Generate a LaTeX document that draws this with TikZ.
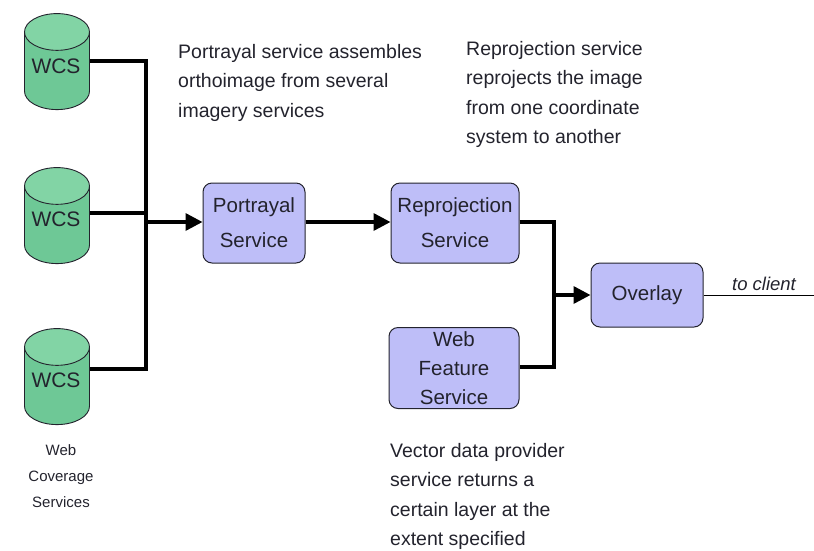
\documentclass[tikz,border=0pt]{standalone}
\usepackage{fontspec}
\setmainfont{Liberation Sans}
\usetikzlibrary{shapes.geometric,arrows.meta}
\definecolor{cylgreen}{RGB}{110,200,150}
\definecolor{cyltop}{RGB}{130,212,165}
\definecolor{boxblue}{RGB}{190,190,248}
\definecolor{ink}{RGB}{35,35,45}
\tikzset{
  x=1pt,y=-1pt,
  db/.style={cylinder,shape border rotate=90,aspect=0.75,draw=ink,line width=0.9pt,
    cylinder uses custom fill,cylinder body fill=cylgreen,cylinder end fill=cyltop,
    minimum width=65pt,minimum height=96pt,inner sep=0pt,anchor=center,
    font=\fontsize{21}{24}\selectfont,text=ink},
  wcslabel/.style={inner sep=0pt,font=\fontsize{21}{24}\selectfont,text=ink},
  svc/.style={draw=ink,fill=boxblue,line width=1pt,rounded corners=9pt,align=center,inner sep=0pt,
    font=\fontsize{20.5}{30}\selectfont,text=ink},
  wire/.style={line width=3.4pt,draw=black},
  feed/.style={line width=3.4pt,draw=black,-{Triangle[length=17pt,width=17pt]}},
  thin wire/.style={line width=1pt,draw=black},
  note/.style={align=left,anchor=north west,inner sep=0pt,font=\fontsize{19.5}{29.5}\selectfont,text=ink},
}
\begin{document}
\begin{tikzpicture}
\useasboundingbox (0,0) rectangle (814,550);
\node[db] (w1) at (57,71) {\phantom{WCS}};
\node[db] (w2) at (57,225) {\phantom{WCS}};
\node[db] (w3) at (57,386) {\phantom{WCS}};
\node[wcslabel] (w1t) at (56,66) {WCS};
\node[wcslabel] (w2t) at (56,219) {WCS};
\node[wcslabel] (w3t) at (56,380) {WCS};
\node[svc,minimum width=102pt,minimum height=80pt] (por) at (254,223) {Portrayal\\[5pt]Service};
\node[svc,minimum width=128pt,minimum height=80pt] (rep) at (455,223) {Reprojection\\[5pt]Service};
\node[svc,minimum width=130pt,minimum height=81pt] (wfs) at (454,368) {Web\\[-1pt]Feature\\[-1pt]Service};
\node[svc,minimum width=112pt,minimum height=64pt] (ovl) at (647,295) {Overlay};
\coordinate (busa) at (146,61);
\coordinate (busb) at (146,369);
\coordinate (busm) at (146,222);
\coordinate (busc) at (146,213);
\coordinate (r1) at (554,222);
\coordinate (r2) at (554,367);
\coordinate (rm) at (554,295);
\coordinate (out) at (814,295);
\draw[wire] (w1.east |- busa) -- (busa) -- (busb) -- (w3.east |- busb);
\draw[wire] (w2.east |- busc) -- (busc);
\draw[feed] (busm) -- (por.west |- busm);
\draw[feed] (por.east |- busm) -- (rep.west |- busm);
\draw[wire] (rep.east |- r1) -- (r1) -- (r2) -- (wfs.east |- r2);
\draw[feed] (rm) -- (ovl.west);
\draw[thin wire] (ovl.east) -- (out);
\node[font=\fontsize{18.5}{20}\selectfont\itshape,text=ink] (lc) at (764,284) {to client};
\node[note] (n1) at (178,44) {Portrayal service assembles\\orthoimage from several\\imagery services};
\node[note] (n2) at (466,41) {Reprojection service\\reprojects the image\\from one coordinate\\system to another};
\node[note] (n3) at (390,443) {Vector data provider\\service returns a\\certain layer at the\\extent specified};
\node[align=center,inner sep=0pt,font=\fontsize{15}{26}\selectfont,text=ink] (n4) at (61,476) {Web\\Coverage\\Services};
\end{tikzpicture}
\end{document}
